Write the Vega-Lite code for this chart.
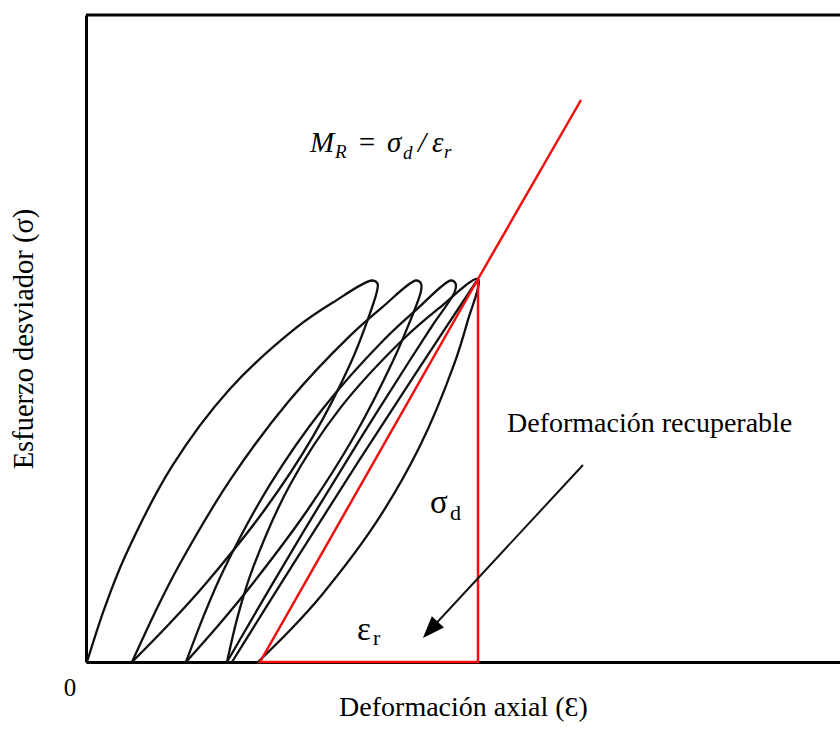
{
  "$schema": "https://vega.github.io/schema/vega-lite/v6.json",
  "width": 754,
  "height": 647,
  "autosize": {"type": "none"},
  "padding": {"left": 86, "top": 15, "right": 0, "bottom": 67},
  "background": "white",
  "config": {"view": {"stroke": null}},
  "datasets": {
    "loops": [
      {"loop": 1, "ord": 1, "x": 1, "y": 0},
      {"loop": 1, "ord": 2, "x": 18.8, "y": 54.6},
      {"loop": 1, "ord": 3, "x": 39, "y": 105.5},
      {"loop": 1, "ord": 4, "x": 86.4, "y": 196.3},
      {"loop": 1, "ord": 5, "x": 143.4, "y": 272.5},
      {"loop": 1, "ord": 6, "x": 210, "y": 334.1},
      {"loop": 1, "ord": 7, "x": 246.8, "y": 359.4},
      {"loop": 1, "ord": 8, "x": 286, "y": 381.5},
      {"loop": 1, "ord": 9, "x": 291.5, "y": 378.5},
      {"loop": 1, "ord": 10, "x": 291, "y": 371},
      {"loop": 1, "ord": 11, "x": 279.4, "y": 335.9},
      {"loop": 1, "ord": 12, "x": 264.9, "y": 299.5},
      {"loop": 1, "ord": 13, "x": 227.3, "y": 226.1},
      {"loop": 1, "ord": 14, "x": 178.3, "y": 151.7},
      {"loop": 1, "ord": 15, "x": 117.9, "y": 76.3},
      {"loop": 1, "ord": 16, "x": 83.4, "y": 38.3},
      {"loop": 1, "ord": 17, "x": 46, "y": 0},
      {"loop": 2, "ord": 1, "x": 46, "y": 0},
      {"loop": 2, "ord": 2, "x": 69.2, "y": 50.1},
      {"loop": 2, "ord": 3, "x": 93.5, "y": 97.5},
      {"loop": 2, "ord": 4, "x": 145.7, "y": 184.3},
      {"loop": 2, "ord": 5, "x": 202.5, "y": 260.5},
      {"loop": 2, "ord": 6, "x": 263.9, "y": 326.1},
      {"loop": 2, "ord": 7, "x": 296.4, "y": 354.9},
      {"loop": 2, "ord": 8, "x": 330, "y": 381.5},
      {"loop": 2, "ord": 9, "x": 335, "y": 378.5},
      {"loop": 2, "ord": 10, "x": 335, "y": 371},
      {"loop": 2, "ord": 11, "x": 321.7, "y": 335.1},
      {"loop": 2, "ord": 12, "x": 306, "y": 298.9},
      {"loop": 2, "ord": 13, "x": 268.2, "y": 225.7},
      {"loop": 2, "ord": 14, "x": 221.2, "y": 151.5},
      {"loop": 2, "ord": 15, "x": 165, "y": 76.3},
      {"loop": 2, "ord": 16, "x": 133.7, "y": 38.3},
      {"loop": 2, "ord": 17, "x": 100, "y": 0},
      {"loop": 3, "ord": 1, "x": 100, "y": 0},
      {"loop": 3, "ord": 2, "x": 118.2, "y": 47.4},
      {"loop": 3, "ord": 3, "x": 138, "y": 92.7},
      {"loop": 3, "ord": 4, "x": 183.8, "y": 177.1},
      {"loop": 3, "ord": 5, "x": 236.8, "y": 253.3},
      {"loop": 3, "ord": 6, "x": 297, "y": 321.3},
      {"loop": 3, "ord": 7, "x": 330.2, "y": 352.2},
      {"loop": 3, "ord": 8, "x": 365, "y": 381.5},
      {"loop": 3, "ord": 9, "x": 369.5, "y": 378.5},
      {"loop": 3, "ord": 10, "x": 369, "y": 371},
      {"loop": 3, "ord": 11, "x": 346.1, "y": 336},
      {"loop": 3, "ord": 12, "x": 323.1, "y": 300.5},
      {"loop": 3, "ord": 13, "x": 277.3, "y": 228.1},
      {"loop": 3, "ord": 14, "x": 231.7, "y": 153.9},
      {"loop": 3, "ord": 15, "x": 186.3, "y": 77.9},
      {"loop": 3, "ord": 16, "x": 163.7, "y": 39.2},
      {"loop": 3, "ord": 17, "x": 141, "y": 0},
      {"loop": 4, "ord": 1, "x": 141, "y": 0},
      {"loop": 4, "ord": 2, "x": 152.2, "y": 47.4},
      {"loop": 4, "ord": 3, "x": 166.4, "y": 92.7},
      {"loop": 4, "ord": 4, "x": 204.2, "y": 177.5},
      {"loop": 4, "ord": 5, "x": 254.4, "y": 254.1},
      {"loop": 4, "ord": 6, "x": 317, "y": 322.5},
      {"loop": 4, "ord": 7, "x": 353, "y": 353.8},
      {"loop": 4, "ord": 8, "x": 392, "y": 383},
      {"loop": 4, "ord": 9, "x": 381.2, "y": 339.4},
      {"loop": 4, "ord": 10, "x": 367.8, "y": 296.9},
      {"loop": 4, "ord": 11, "x": 333.8, "y": 215.7},
      {"loop": 4, "ord": 12, "x": 289.8, "y": 139.1},
      {"loop": 4, "ord": 13, "x": 235.8, "y": 67.1},
      {"loop": 4, "ord": 14, "x": 205.2, "y": 33},
      {"loop": 4, "ord": 15, "x": 172, "y": 0},
      {"loop": 5, "ord": 1, "x": 146, "y": 0},
      {"loop": 5, "ord": 2, "x": 206.4, "y": 96.7},
      {"loop": 5, "ord": 3, "x": 267.5, "y": 192.75},
      {"loop": 5, "ord": 4, "x": 329.4, "y": 288.2},
      {"loop": 5, "ord": 5, "x": 392, "y": 383}
    ],
    "red": [
      {"ord": 1, "x": 495, "y": 562},
      {"ord": 2, "x": 392, "y": 383},
      {"ord": 3, "x": 174, "y": 0},
      {"ord": 4, "x": 392, "y": 0},
      {"ord": 5, "x": 392, "y": 383}
    ],
    "mathBig": [
      {"x": 224, "y": 510, "label": "M"},
      {"x": 271, "y": 510, "label": "="},
      {"x": 301, "y": 510, "label": "σ"},
      {"x": 332, "y": 510, "label": "/"},
      {"x": 346, "y": 510, "label": "ε"}
    ],
    "mathSub": [
      {"x": 249, "y": 504, "label": "R"},
      {"x": 317, "y": 503, "label": "d"},
      {"x": 358, "y": 504, "label": "r"}
    ],
    "greekBig": [
      {"x": 344, "y": 149, "label": "σ"},
      {"x": 271, "y": 22, "label": "ε"}
    ],
    "greekSub": [
      {"x": 364, "y": 142, "label": "d"},
      {"x": 287, "y": 17, "label": "r"}
    ],
    "notes": [
      {"x": 421, "y": 230, "label": "Deformación recuperable"}
    ],
    "arrow": [
      {"x": 497, "y": 197, "x2": 344, "y2": 32}
    ],
    "head": [
      {"x": 344.4, "y": 32.1}
    ],
    "zero": [
      {"x": 0, "y": 0, "label": "0"}
    ],
    "frame": [
      {"y": 647}
    ]
  },
  "layer": [
    {
      "data": {"name": "loops"},
      "mark": {"type": "line", "interpolate": "catmull-rom", "color": "#111111", "strokeWidth": 2.3},
      "encoding": {
        "x": {
          "field": "x", "type": "quantitative",
          "scale": {"domain": [0, 754], "nice": false, "zero": false},
          "axis": {
            "title": "Deformación axial (Ɛ)", "labels": false, "ticks": false, "grid": false,
            "domainColor": "#000000", "domainWidth": 3,
            "titleFont": "Liberation Serif", "titleFontSize": 28, "titleFontWeight": "normal",
            "titleColor": "#000000", "titlePadding": 31
          }
        },
        "y": {
          "field": "y", "type": "quantitative",
          "scale": {"domain": [0, 647], "nice": false, "zero": false},
          "axis": {
            "title": "Esfuerzo desviador (σ)", "labels": false, "ticks": false, "grid": false,
            "domainColor": "#000000", "domainWidth": 3,
            "titleFont": "Liberation Serif", "titleFontSize": 28.5, "titleFontWeight": "normal",
            "titleColor": "#000000", "titlePadding": 48
          }
        },
        "detail": {"field": "loop", "type": "nominal"},
        "order": {"field": "ord", "type": "quantitative"}
      }
    },
    {
      "data": {"name": "red"},
      "mark": {"type": "line", "color": "#f01010", "strokeWidth": 2.5, "strokeJoin": "miter"},
      "encoding": {
        "x": {"field": "x", "type": "quantitative"},
        "y": {"field": "y", "type": "quantitative"},
        "order": {"field": "ord", "type": "quantitative"}
      }
    },
    {
      "data": {"name": "frame"},
      "mark": {"type": "rule", "color": "#000000", "strokeWidth": 3},
      "encoding": {"y": {"field": "y", "type": "quantitative"}}
    },
    {
      "data": {"name": "arrow"},
      "mark": {"type": "rule", "color": "#111111", "strokeWidth": 2},
      "encoding": {
        "x": {"field": "x", "type": "quantitative"},
        "y": {"field": "y", "type": "quantitative"},
        "x2": {"field": "x2"},
        "y2": {"field": "y2"}
      }
    },
    {
      "data": {"name": "head"},
      "mark": {"type": "point", "shape": "M0,-1L0.75,1L-0.75,1Z", "filled": true, "color": "#000000", "size": 484, "angle": 222.8, "opacity": 1},
      "encoding": {
        "x": {"field": "x", "type": "quantitative"},
        "y": {"field": "y", "type": "quantitative"}
      }
    },
    {
      "data": {"name": "mathBig"},
      "mark": {"type": "text", "font": "Liberation Serif", "fontStyle": "italic", "fontSize": 29, "align": "left", "baseline": "alphabetic", "color": "#000000"},
      "encoding": {
        "x": {"field": "x", "type": "quantitative"},
        "y": {"field": "y", "type": "quantitative"},
        "text": {"field": "label"}
      }
    },
    {
      "data": {"name": "mathSub"},
      "mark": {"type": "text", "font": "Liberation Serif", "fontStyle": "italic", "fontSize": 19, "align": "left", "baseline": "alphabetic", "color": "#000000"},
      "encoding": {
        "x": {"field": "x", "type": "quantitative"},
        "y": {"field": "y", "type": "quantitative"},
        "text": {"field": "label"}
      }
    },
    {
      "data": {"name": "greekBig"},
      "mark": {"type": "text", "font": "Liberation Serif", "fontSize": 33, "align": "left", "baseline": "alphabetic", "color": "#000000"},
      "encoding": {
        "x": {"field": "x", "type": "quantitative"},
        "y": {"field": "y", "type": "quantitative"},
        "text": {"field": "label"}
      }
    },
    {
      "data": {"name": "greekSub"},
      "mark": {"type": "text", "font": "Liberation Serif", "fontSize": 22, "align": "left", "baseline": "alphabetic", "color": "#000000"},
      "encoding": {
        "x": {"field": "x", "type": "quantitative"},
        "y": {"field": "y", "type": "quantitative"},
        "text": {"field": "label"}
      }
    },
    {
      "data": {"name": "notes"},
      "mark": {"type": "text", "font": "Liberation Serif", "fontSize": 28, "align": "left", "baseline": "alphabetic", "color": "#000000"},
      "encoding": {
        "x": {"field": "x", "type": "quantitative"},
        "y": {"field": "y", "type": "quantitative"},
        "text": {"field": "label"}
      }
    },
    {
      "data": {"name": "zero"},
      "mark": {"type": "text", "font": "Liberation Serif", "fontSize": 25, "align": "center", "baseline": "middle", "dx": -16, "dy": 26, "color": "#000000"},
      "encoding": {
        "x": {"field": "x", "type": "quantitative"},
        "y": {"field": "y", "type": "quantitative"},
        "text": {"field": "label"}
      }
    }
  ]
}
